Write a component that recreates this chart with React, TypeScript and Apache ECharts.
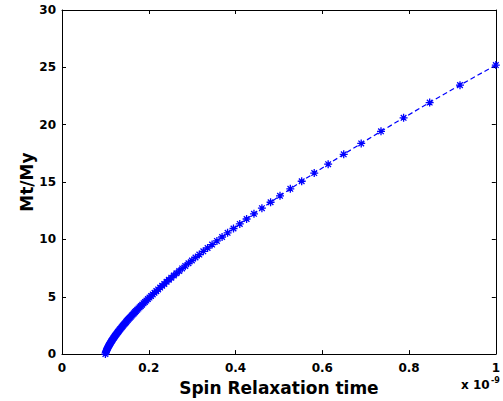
import React, { useEffect, useRef } from "react";
import * as echarts from "echarts";

// Spin relaxation time (x 1e-9 s)
const relaxTime = [
  1.0, 0.9174, 0.8475, 0.7874, 0.7353, 0.6897, 0.6494, 0.6135, 0.5814, 0.5525,
  0.5263, 0.5025, 0.4808, 0.4608, 0.4425, 0.4255, 0.4098, 0.3953, 0.3817, 0.369,
  0.3571, 0.346, 0.3356, 0.3257, 0.3165, 0.3077, 0.2994, 0.2915, 0.2841, 0.277,
  0.2703, 0.2639, 0.2577, 0.2519, 0.2463, 0.241, 0.2358, 0.2309, 0.2262, 0.2217,
  0.2174, 0.2132, 0.2092, 0.2053, 0.2016, 0.198, 0.1946, 0.1912, 0.188, 0.1848,
  0.1818, 0.1789, 0.1761, 0.1733, 0.1706, 0.1681, 0.1656, 0.1631, 0.1608, 0.1585,
  0.1563, 0.1541, 0.152, 0.1499, 0.1479, 0.146, 0.1441, 0.1422, 0.1404, 0.1387,
  0.137, 0.1353, 0.1337, 0.1321, 0.1305, 0.129, 0.1276, 0.1261, 0.1247, 0.1233,
  0.122, 0.1206, 0.1193, 0.1181, 0.1168, 0.1156, 0.1144, 0.1133, 0.1121, 0.111,
  0.1099, 0.1088, 0.1078, 0.1067, 0.1057, 0.1047, 0.1037, 0.1028, 0.1018, 0.1009,
  0.1,
];

// Mt/My
const ratio = [
  25.2, 23.45, 21.93, 20.6, 19.42, 18.37, 17.42, 16.56, 15.78, 15.07,
  14.41, 13.8, 13.24, 12.72, 12.23, 11.78, 11.35, 10.95, 10.57, 10.21,
  9.87, 9.55, 9.25, 8.96, 8.68, 8.42, 8.16, 7.92, 7.69, 7.47,
  7.25, 7.05, 6.85, 6.66, 6.48, 6.3, 6.12, 5.96, 5.8, 5.64,
  5.49, 5.35, 5.2, 5.06, 4.93, 4.8, 4.67, 4.55, 4.43, 4.31,
  4.19, 4.08, 3.97, 3.86, 3.75, 3.66, 3.55, 3.45, 3.36, 3.26,
  3.17, 3.08, 2.99, 2.9, 2.81, 2.72, 2.64, 2.56, 2.47, 2.39,
  2.31, 2.23, 2.16, 2.08, 2.0, 1.93, 1.86, 1.78, 1.71, 1.64,
  1.57, 1.49, 1.42, 1.36, 1.28, 1.21, 1.14, 1.08, 1.0, 0.93,
  0.86, 0.79, 0.73, 0.64, 0.57, 0.49, 0.41, 0.33, 0.24, 0.14,
  0,
];

const xTicks = [0, 0.2, 0.4, 0.6, 0.8, 1];
const yTicks = [0, 5, 10, 15, 20, 25, 30];

const FONT = "DejaVu Sans";
const STAR =
  "path://M5,0L5,10M0,5L10,5M1.5,1.5L8.5,8.5M1.5,8.5L8.5,1.5";

export default function App() {
  const ref = useRef<HTMLDivElement>(null);
  useEffect(() => {
    if (!ref.current) return;
    const chart = echarts.init(ref.current, null, { renderer: "svg" });
    const data = relaxTime.map((t, i) => [t, ratio[i]]);
    const axisCommon = {
      type: "value" as const,
      axisLine: { show: true, onZero: false, lineStyle: { color: "#000", width: 1 } },
      axisTick: { show: true, inside: true, length: 4, lineStyle: { color: "#000", width: 1 } },
      splitLine: { show: false },
    };
    chart.setOption({
      animation: false,
      backgroundColor: "#fff",
      grid: { left: 62, right: 3, top: 10, bottom: 45, show: false },
      xAxis: [
        {
          ...axisCommon,
          position: "bottom",
          min: 0,
          max: 1,
          interval: 0.2,
          axisLabel: {
            show: true,
            margin: 8,
            color: "#000",
            fontFamily: FONT,
            fontWeight: "bold",
            fontSize: 12,
            formatter: (v: number) => (xTicks.includes(Math.round(v * 10) / 10) ? String(Math.round(v * 10) / 10) : ""),
          },
          name: "Spin Relaxation time",
          nameLocation: "middle",
          nameGap: 21,
          nameTextStyle: { color: "#000", fontFamily: FONT, fontWeight: "bold", fontSize: 17 },
        },
        {
          ...axisCommon,
          position: "top",
          min: 0,
          max: 1,
          interval: 0.2,
          axisLabel: { show: false },
        },
      ],
      yAxis: [
        {
          ...axisCommon,
          position: "left",
          min: 0,
          max: 30,
          interval: 5,
          axisLabel: {
            show: true,
            margin: 6,
            color: "#000",
            fontFamily: FONT,
            fontWeight: "bold",
            fontSize: 12,
            formatter: (v: number) => (yTicks.includes(v) ? String(v) : ""),
          },
          name: "Mt/My",
          nameLocation: "middle",
          nameGap: 27,
          nameMoveOverlap: false,
          nameRotate: 90,
          nameTextStyle: { color: "#000", fontFamily: FONT, fontWeight: "bold", fontSize: 17 },
        },
        {
          ...axisCommon,
          position: "right",
          min: 0,
          max: 30,
          interval: 5,
          axisLabel: { show: false },
        },
      ],
      graphic: [
        {
          type: "text",
          x: 461,
          y: 385,
          style: {
            text: "x 10",
            fill: "#000",
            font: `bold 12px "${FONT}"`,
            textAlign: "left",
            textVerticalAlign: "middle",
          },
        },
        {
          type: "text",
          x: 491,
          y: 380,
          style: {
            text: "-9",
            fill: "#000",
            font: `bold 8px "${FONT}"`,
            textAlign: "left",
            textVerticalAlign: "middle",
          },
        },
      ],
      series: [
        {
          type: "line",
          data,
          clip: false,
          symbol: STAR,
          symbolSize: 8,
          showAllSymbol: true,
          itemStyle: { color: "#0000ff", borderColor: "#0000ff", borderWidth: 1.3 },
          lineStyle: { color: "#0000ff", width: 1.2, type: [5, 3] },
          emphasis: { disabled: true },
        },
      ],
    });
    return () => chart.dispose();
  }, []);
  return (
    <div
      ref={ref}
      style={{ position: "fixed", left: 0, top: 0, width: 503, height: 401, background: "#fff" }}
    />
  );
}
